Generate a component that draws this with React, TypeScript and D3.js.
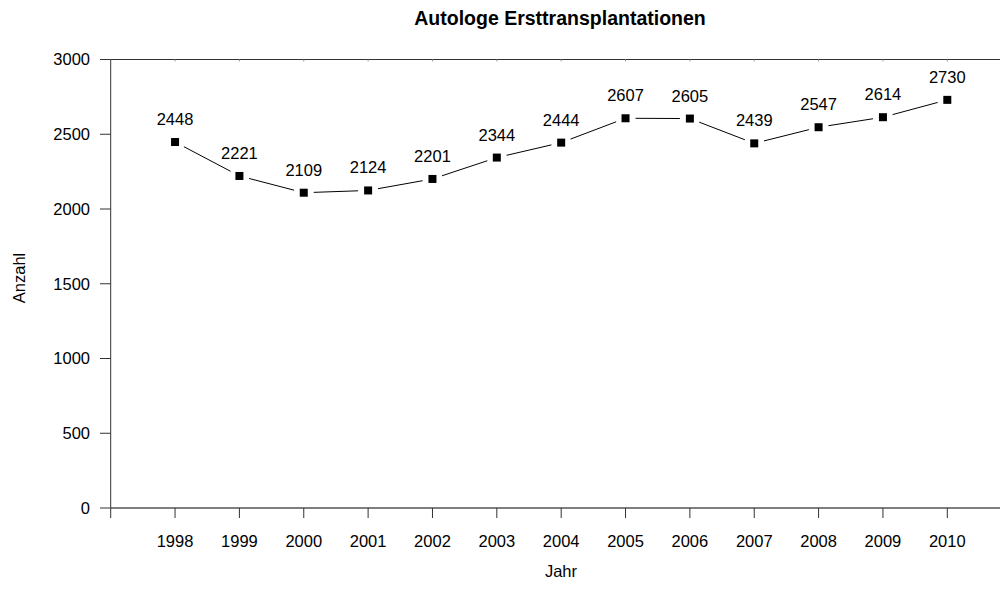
import React from 'react';
import * as d3 from 'd3';

const years = [1998, 1999, 2000, 2001, 2002, 2003, 2004, 2005, 2006, 2007, 2008, 2009, 2010];
const counts = [2448, 2221, 2109, 2124, 2201, 2344, 2444, 2607, 2605, 2439, 2547, 2614, 2730];
const yTicks = [0, 500, 1000, 1500, 2000, 2500, 3000];

const W = 1001;
const H = 589;
const font = '"Liberation Sans", Arial, sans-serif';

export default function App() {
  const x = d3.scaleLinear().domain([1997, 2010]).range([110.7, 947.3]);
  const y = d3.scaleLinear().domain([0, 3000]).range([508, 59.5]);
  const right = 1000;
  const gap = 10;
  const fs = 16.5;

  const pts = years.map((yr, i) => ({ yr, v: counts[i], px: x(yr), py: y(counts[i]) }));

  // R type="b": segments stop short of each point
  const segs = pts.slice(1).map((p, i) => {
    const a = pts[i];
    const dx = p.px - a.px;
    const dy = p.py - a.py;
    const len = Math.sqrt(dx * dx + dy * dy);
    const ux = dx / len;
    const uy = dy / len;
    return {
      x1: a.px + ux * gap,
      y1: a.py + uy * gap,
      x2: p.px - ux * gap,
      y2: p.py - uy * gap,
    };
  });

  return (
    <svg width={W} height={H} style={{ position: 'absolute', left: 0, top: 0 }} fontFamily={font}>
      <rect width={W} height={H} fill="#fff" />
      <text x={560} y={25} textAnchor="middle" fontSize={19.5} fontWeight="bold">
        Autologe Ersttransplantationen
      </text>

      {/* y axis */}
      <line x1={x(1997)} x2={x(1997)} y1={y(0)} y2={y(3000)} stroke="#333" />
      {yTicks.map((t) => (
        <g key={t}>
          <line x1={100} x2={x(1997)} y1={y(t)} y2={y(t)} stroke="#333" />
          <text x={90} y={y(t)} dy="0.36em" textAnchor="end" fontSize={fs}>
            {t}
          </text>
        </g>
      ))}

      {/* x axis */}
      <line x1={x(1997)} x2={right} y1={y(0)} y2={y(0)} stroke="#555" strokeWidth={1.3} />
      <line x1={x(1997)} x2={right} y1={y(3000)} y2={y(3000)} stroke="#333" />
      <line x1={x(1997)} x2={x(1997)} y1={y(0)} y2={y(0) + 10} stroke="#333" />
      {years.map((yr) => (
        <g key={yr}>
          <line x1={x(yr)} x2={x(yr)} y1={y(0)} y2={y(0) + 10} stroke="#333" />
          <line x1={x(yr)} x2={x(yr)} y1={y(3000)} y2={y(3000) + 2} stroke="#999" />
          <text x={x(yr)} y={546.5} textAnchor="middle" fontSize={fs}>
            {yr}
          </text>
        </g>
      ))}

      <text x={561} y={577} textAnchor="middle" fontSize={fs}>
        Jahr
      </text>
      <text transform="translate(25,278) rotate(-90)" textAnchor="middle" fontSize={fs}>
        Anzahl
      </text>

      {segs.map((s, i) => (
        <line key={i} x1={s.x1} y1={s.y1} x2={s.x2} y2={s.y2} stroke="#000" strokeWidth={1} />
      ))}
      {pts.map((p) => (
        <g key={p.yr}>
          <rect x={p.px - 4} y={p.py - 4} width={8} height={8} fill="#000" />
          <text x={p.px} y={p.py - 17} textAnchor="middle" fontSize={fs}>
            {p.v}
          </text>
        </g>
      ))}
    </svg>
  );
}
